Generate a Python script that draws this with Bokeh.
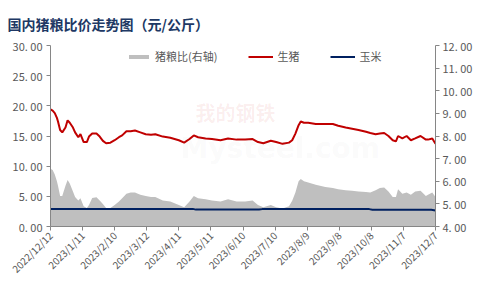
import pandas as pd
from bokeh.plotting import figure
from bokeh.models import (Range1d, LinearAxis, FixedTicker, CustomJSTickFormatter,
                          Legend, LegendItem, Label, ColumnDataSource)
from bokeh.embed import file_html
from bokeh.resources import INLINE
from math import pi

title_text = "国内猪粮比价走势图（元/公斤）"
x_tick_labels = ["2022/12/12", "2023/1/11", "2023/2/10", "2023/3/12", "2023/4/11",
                 "2023/5/11", "2023/6/10", "2023/7/10", "2023/8/9", "2023/9/8",
                 "2023/10/8", "2023/11/7", "2023/12/7"]

dates = ["2022-12-12", "2022-12-14", "2022-12-16", "2022-12-18", "2022-12-19", "2022-12-21",
         "2022-12-23", "2022-12-26", "2022-12-28", "2022-12-30", "2023-01-02", "2023-01-04",
         "2023-01-07", "2023-01-09", "2023-01-12", "2023-01-15", "2023-01-17", "2023-01-20",
         "2023-01-24", "2023-01-27", "2023-01-30", "2023-02-02", "2023-02-06", "2023-02-10",
         "2023-02-14", "2023-02-17", "2023-02-21", "2023-02-25", "2023-03-01", "2023-03-06",
         "2023-03-11", "2023-03-16", "2023-03-20", "2023-03-27", "2023-04-03", "2023-04-11",
         "2023-04-16", "2023-04-21", "2023-04-25", "2023-04-29", "2023-05-06", "2023-05-12",
         "2023-05-20", "2023-05-27", "2023-06-04", "2023-06-12", "2023-06-19", "2023-06-24",
         "2023-06-29", "2023-07-06", "2023-07-11", "2023-07-17", "2023-07-23", "2023-07-26",
         "2023-07-29", "2023-08-01", "2023-08-03", "2023-08-06", "2023-08-10", "2023-08-17",
         "2023-08-26", "2023-09-02", "2023-09-07", "2023-09-14", "2023-09-20", "2023-09-26",
         "2023-10-03", "2023-10-07", "2023-10-12", "2023-10-16", "2023-10-20", "2023-10-24",
         "2023-10-28", "2023-10-31", "2023-11-02", "2023-11-06", "2023-11-10", "2023-11-14",
         "2023-11-18", "2023-11-23", "2023-11-28", "2023-11-30", "2023-12-04", "2023-12-07"]

hog = [19.4, 19.2, 18.8, 18.0, 17.4, 16.0, 15.6, 16.4, 17.6, 17.2, 16.4, 15.6,
       14.8, 15.3, 14.0, 14.0, 14.9, 15.4, 15.4, 14.9, 14.2, 13.8, 13.9, 14.3,
       14.8, 15.1, 15.8, 15.8, 15.9, 15.6, 15.3, 15.2, 15.3, 14.9, 14.7, 14.3,
       13.9, 14.5, 15.1, 14.8, 14.6, 14.5, 14.3, 14.6, 14.4, 14.4, 14.5, 14.0,
       13.8, 14.2, 14.0, 13.7, 13.9, 14.3, 15.4, 16.8, 17.4, 17.2, 17.2, 17.0,
       17.0, 17.0, 16.7, 16.4, 16.2, 16.0, 15.7, 15.5, 15.3, 15.4, 15.5, 15.0,
       14.3, 14.1, 15.0, 14.6, 15.0, 14.3, 14.6, 15.0, 14.4, 14.4, 14.6, 13.7]

ratio = [6.55, 6.5, 6.3, 6.0, 5.8, 5.35, 5.35, 5.8, 6.05, 5.9, 5.55, 5.3,
         5.15, 5.25, 4.9, 4.82, 4.95, 5.26, 5.29, 5.15, 5.0, 4.82, 4.82, 4.95,
         5.1, 5.25, 5.45, 5.5, 5.5, 5.4, 5.35, 5.3, 5.3, 5.15, 5.1, 4.95,
         4.85, 5.1, 5.35, 5.25, 5.2, 5.15, 5.1, 5.2, 5.1, 5.1, 5.15, 4.95,
         4.85, 4.95, 4.85, 4.8, 4.9, 5.14, 5.5, 6.0, 6.1, 6.0, 5.95, 5.85,
         5.75, 5.7, 5.65, 5.6, 5.58, 5.55, 5.52, 5.5, 5.6, 5.7, 5.72, 5.55,
         5.3, 5.3, 5.65, 5.45, 5.5, 5.4, 5.55, 5.58, 5.35, 5.4, 5.5, 5.3]

corn_dates = ["2022-12-12", "2023-04-24", "2023-04-27", "2023-06-25", "2023-06-28",
              "2023-10-06", "2023-10-09", "2023-12-03", "2023-12-07"]
corn = [2.92, 2.92, 2.80, 2.80, 2.88, 2.88, 2.78, 2.78, 2.65]

series_names = ["猪粮比(右轴)", "生猪", "玉米"]

FONT = "Noto Sans CJK SC"
GREY_TXT = "#595959"
AXIS_COL = "#868686"

d = pd.to_datetime(dates)
cd = pd.to_datetime(corn_dates)
tick_dt = pd.to_datetime(x_tick_labels, format="%Y/%m/%d")
tick_ms = [float(t.value // 10**6) for t in tick_dt]

src = ColumnDataSource(dict(x=d, hog=hog, ratio=ratio))
csrc = ColumnDataSource(dict(x=cd, corn=corn))

p = figure(width=480, height=288, x_axis_type="datetime",
           x_range=Range1d(tick_dt[0], tick_dt[-1]), y_range=Range1d(0, 30),
           output_backend="svg", toolbar_location=None,
           min_border_left=50, min_border_right=45, min_border_top=44, min_border_bottom=62)
p.extra_y_ranges = {"ratio": Range1d(4, 12)}
p.outline_line_color = None
p.grid.visible = False
p.background_fill_color = "white"
p.border_fill_color = "white"

p.title.text = title_text
p.title.text_font = FONT
p.title.text_font_size = "14px"
p.title.text_font_style = "bold"
p.title.text_color = "#203864"
p.title.align = "left"
p.title.offset = -43
p.title.standoff = 23

fmt = CustomJSTickFormatter(code="return tick.toFixed(2).replace('.', '. ');")

# left axis
ya = p.yaxis[0]
ya.ticker = FixedTicker(ticks=[0, 5, 10, 15, 20, 25, 30])
ya.formatter = fmt
ya.axis_line_color = AXIS_COL
ya.major_tick_line_color = AXIS_COL
ya.major_tick_out = 4
ya.major_tick_in = 0
ya.minor_tick_line_color = None
ya.major_label_text_font = FONT
ya.major_label_text_font_size = "11px"
ya.major_label_text_color = GREY_TXT
ya.major_label_standoff = 4

# right axis
ra = LinearAxis(y_range_name="ratio", ticker=FixedTicker(ticks=list(range(4, 13))))
ra.formatter = fmt
ra.axis_line_color = AXIS_COL
ra.major_tick_line_color = AXIS_COL
ra.major_tick_out = 4
ra.major_tick_in = 0
ra.minor_tick_line_color = None
ra.major_label_text_font = FONT
ra.major_label_text_font_size = "11px"
ra.major_label_text_color = GREY_TXT
ra.major_label_standoff = 3
p.add_layout(ra, "right")

# x axis
xa = p.xaxis[0]
xa.ticker = FixedTicker(ticks=tick_ms)
xa.major_label_overrides = {tm: lab for tm, lab in zip(tick_ms, x_tick_labels)}
xa.major_label_orientation = pi / 4
xa.axis_line_color = AXIS_COL
xa.major_tick_line_color = AXIS_COL
xa.major_tick_out = 4
xa.major_tick_in = 0
xa.minor_tick_line_color = None
xa.major_label_text_font = FONT
xa.major_label_text_font_size = "10px"
xa.major_label_text_color = GREY_TXT
xa.major_label_standoff = 3

# watermark
p.add_layout(Label(x=145, y=100, x_units="screen", y_units="screen", text="我的钢铁",
                   text_font=FONT, text_font_size="20px", text_font_style="bold",
                   text_color="#C00000", text_alpha=0.07))
p.add_layout(Label(x=130, y=62, x_units="screen", y_units="screen", text="Mysteel.com",
                   text_font="DejaVu Sans", text_font_size="28px", text_font_style="bold",
                   text_color="#808080", text_alpha=0.05))

r_ratio = p.varea(x="x", y1=4, y2="ratio", source=src, y_range_name="ratio",
                  fill_color="#BFBFBF")
r_hog = p.line(x="x", y="hog", source=src, line_color="#C00000", line_width=2)
r_corn = p.line(x="x", y="corn", source=csrc, line_color="#002060", line_width=2)

legend = Legend(items=[LegendItem(label=series_names[0], renderers=[r_ratio]),
                       LegendItem(label=series_names[1], renderers=[r_hog]),
                       LegendItem(label=series_names[2], renderers=[r_corn])],
                orientation="horizontal", location=(76, 162),
                glyph_width=25, glyph_height=5, label_standoff=4, spacing=31,
                padding=0, margin=0, background_fill_alpha=0, border_line_color=None,
                label_text_font=FONT, label_text_font_size="11px",
                label_text_color=GREY_TXT, label_height=12)
p.add_layout(legend)

open("out.html", "w").write(file_html(p, INLINE))
